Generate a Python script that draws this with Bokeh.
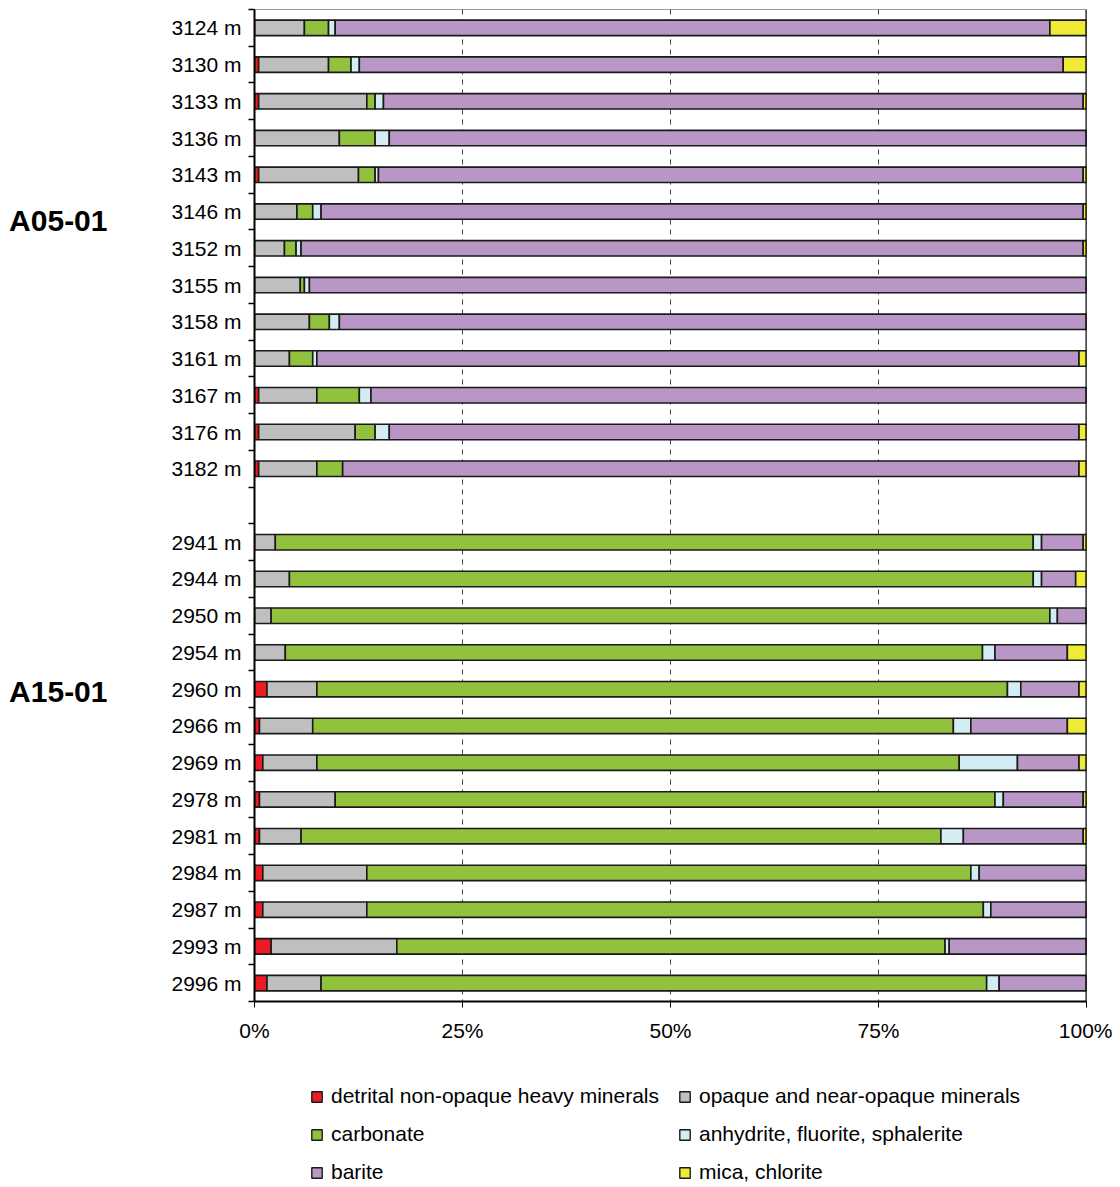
from bokeh.plotting import figure
from bokeh.layouts import column
from bokeh.models import (ColumnDataSource, Range1d, FixedTicker, Legend, LegendItem,
                          Span, LinearAxis)
from bokeh.embed import file_html
from bokeh.resources import INLINE

# ---------------- data ----------------
wells = ["A05-01", "A15-01"]
depths_a05 = ["3124 m", "3130 m", "3133 m", "3136 m", "3143 m", "3146 m", "3152 m",
              "3155 m", "3158 m", "3161 m", "3167 m", "3176 m", "3182 m"]
depths_a15 = ["2941 m", "2944 m", "2950 m", "2954 m", "2960 m", "2966 m", "2969 m",
              "2978 m", "2981 m", "2984 m", "2987 m", "2993 m", "2996 m"]

detrital_a05 = [0, 0.5, 0.5, 0, 0.5, 0, 0, 0, 0, 0, 0.5, 0.5, 0.5]
opaque_a05 = [6.0, 8.4, 13.0, 10.2, 12.0, 5.1, 3.6, 5.5, 6.6, 4.2, 7.0, 11.6, 7.0]
carbonate_a05 = [2.9, 2.7, 1.0, 4.3, 2.0, 1.9, 1.4, 0.5, 2.4, 2.8, 5.1, 2.4, 3.1]
anhydrite_a05 = [0.8, 1.0, 1.0, 1.7, 0.4, 1.0, 0.6, 0.6, 1.2, 0.5, 1.4, 1.7, 0]
barite_a05 = [85.9, 84.6, 84.1, 83.8, 84.7, 91.6, 94.0, 93.4, 89.8, 91.6, 86.0, 82.9, 88.5]
mica_a05 = [4.4, 2.8, 0.4, 0, 0.4, 0.4, 0.4, 0, 0, 0.9, 0, 0.9, 0.9]

detrital_a15 = [0, 0, 0, 0, 1.5, 0.6, 1.0, 0.6, 0.6, 1.0, 1.0, 2.0, 1.5]
opaque_a15 = [2.5, 4.2, 2.0, 3.7, 6.0, 6.4, 6.5, 9.1, 5.0, 12.5, 12.5, 15.1, 6.5]
carbonate_a15 = [91.1, 89.4, 93.6, 83.8, 83.0, 77.0, 77.2, 79.3, 76.9, 72.6, 74.1, 65.9, 80.0]
anhydrite_a15 = [1.0, 1.0, 0.9, 1.5, 1.6, 2.1, 7.0, 1.0, 2.7, 1.0, 0.9, 0.5, 1.5]
barite_a15 = [5.0, 4.1, 3.5, 8.7, 7.0, 11.6, 7.4, 9.6, 14.4, 12.9, 11.5, 16.5, 10.5]
mica_a15 = [0.4, 1.3, 0, 2.3, 0.9, 2.3, 0.9, 0.4, 0.4, 0, 0, 0, 0]

components = ["detrital", "opaque", "carbonate", "anhydrite", "barite", "mica"]
component_labels = ["detrital non-opaque heavy minerals", "opaque and near-opaque minerals",
                    "carbonate", "anhydrite, fluorite, sphalerite", "barite", "mica, chlorite"]
colors = ["#ed1c24", "#bfbfbf", "#92c13e", "#d3edf3", "#b896c6", "#eeea35"]

x_ticks = [0, 25, 50, 75, 100]
x_tick_labels = ["0%", "25%", "50%", "75%", "100%"]

# ---------------- layout of rows ----------------
n_top = len(depths_a05)
gap = 1
y_top = list(range(n_top))
y_bot = [n_top + gap + i for i in range(len(depths_a15))]
n_slots = n_top + gap + len(depths_a15)

data = dict(
    y=y_top + y_bot,
    detrital=detrital_a05 + detrital_a15,
    opaque=opaque_a05 + opaque_a15,
    carbonate=carbonate_a05 + carbonate_a15,
    anhydrite=anhydrite_a05 + anhydrite_a15,
    barite=barite_a05 + barite_a15,
    mica=mica_a05 + mica_a15,
)
source = ColumnDataSource(data)

FONT = "Liberation Sans"
OUTLINE = "#1a1a1a"
LW = 1.6
BAR_H = 0.42

p = figure(width=1112, height=1050, output_backend="svg", toolbar_location=None,
           x_range=Range1d(0, 100), y_range=Range1d(n_slots - 0.5, -0.5),
           min_border_left=254, min_border_right=26, min_border_top=9,
           min_border_bottom=49)
p.outline_line_color = "#999999"
p.outline_line_width = 1
p.background_fill_color = "white"
p.border_fill_color = "white"

renderers = p.hbar_stack(components, y="y", height=BAR_H, source=source,
                         fill_color=colors, line_color=OUTLINE, line_width=LW)

# grid
p.ygrid.grid_line_color = None
p.xgrid.ticker = FixedTicker(ticks=x_ticks[1:-1])
p.xgrid.grid_line_color = "#444444"
p.xgrid.grid_line_dash = "5 5"
p.xgrid.grid_line_width = 1

p.add_layout(Span(location=x_ticks[-1], dimension="height", line_color="black", line_width=2))

# x axis
xa = p.xaxis[0]
xa.ticker = FixedTicker(ticks=x_ticks, minor_ticks=[])
xa.major_label_overrides = {t: l for t, l in zip(x_ticks, x_tick_labels)}
xa.major_tick_in = 0
xa.major_tick_out = 6
xa.minor_tick_out = 0
xa.axis_line_color = "black"
xa.axis_line_width = 2
xa.major_tick_line_color = "black"
xa.major_label_text_font = FONT
xa.major_label_text_font_size = "21px"
xa.major_label_text_color = "black"
xa.major_label_standoff = 11

# y axis (sample depths)
ya = p.yaxis[0]
centers = y_top + y_bot
ya.ticker = FixedTicker(ticks=centers, minor_ticks=[k - 0.5 for k in range(n_slots + 1)])
ya.major_label_overrides = {y: l for y, l in zip(centers, depths_a05 + depths_a15)}
ya.major_tick_in = 0
ya.major_tick_out = 0
ya.minor_tick_in = 0
ya.minor_tick_out = 6
ya.minor_tick_line_color = "black"
ya.minor_tick_line_width = 1.5
ya.axis_line_color = "black"
ya.axis_line_width = 2
ya.major_label_text_font = FONT
ya.major_label_text_font_size = "21px"
ya.major_label_text_color = "black"
ya.major_label_standoff = 7

# outer axis carrying the well names
group_y = [5.25, 18.05]
ga = LinearAxis(ticker=FixedTicker(ticks=group_y, minor_ticks=[]),
                major_label_overrides={y: w for y, w in zip(group_y, wells)},
                axis_line_color=None, major_tick_line_color=None, minor_tick_line_color=None,
                major_tick_in=0, major_tick_out=0, minor_tick_in=0, minor_tick_out=0,
                major_label_text_font=FONT, major_label_text_font_size="30px",
                major_label_text_font_style="bold", major_label_text_color="black",
                major_label_standoff=61)
p.add_layout(ga, "left")

# ---------------- legend panel ----------------
p2 = figure(width=1112, height=135, output_backend="svg", toolbar_location=None,
            x_range=Range1d(0, 1), y_range=Range1d(0, 1),
            x_axis_location=None, y_axis_location=None,
            min_border=0, min_border_left=0, min_border_right=0,
            min_border_top=0, min_border_bottom=0)
p2.grid.visible = False
p2.outline_line_color = None
p2.background_fill_color = "white"
p2.border_fill_color = "white"

# legend swatches: one zero-size bar per component, kept outside the visible range
swatch_src = ColumnDataSource(dict(y=[-5], left=[0], right=[0]))
swatches = [p2.hbar(y="y", left="left", right="right", height=0, source=swatch_src,
                    fill_color=c, line_color=OUTLINE, line_width=1.4) for c in colors]

# column-major order so rows read left-to-right
order = [0, 2, 4, 1, 3, 5]
items = [LegendItem(label=component_labels[i], renderers=[swatches[i]]) for i in order]
legend = Legend(items=items, location=(56, -6), orientation="vertical", ncols=2,
                glyph_width=13, glyph_height=13, label_standoff=8,
                label_width=347, label_height=38, spacing=0, padding=0, margin=0,
                border_line_color=None, background_fill_alpha=0,
                label_text_font=FONT, label_text_font_size="21px", label_text_color="black")
p2.add_layout(legend, "center")

layout = column(p, p2, spacing=0)
open("out.html", "w").write(file_html(layout, INLINE))
